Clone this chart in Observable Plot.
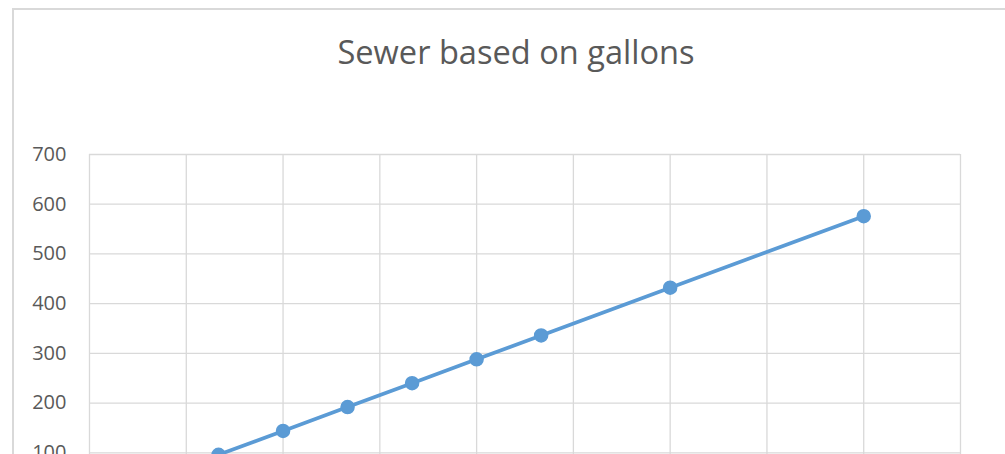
<!DOCTYPE html>
<html>
<head>
<meta charset="utf-8">
<script src="https://cdn.jsdelivr.net/npm/d3@7"></script>
<script src="https://cdn.jsdelivr.net/npm/@observablehq/plot@0.6"></script>
<style>
  html, body { margin: 0; padding: 0; background: #fff; overflow: hidden; }
  #wrap { position: relative; width: 1005px; height: 454px; overflow: hidden; background: #fff; }
  #border { position: absolute; left: 12px; top: 8px; width: 1100px; height: 600px;
            border-top: 2px solid #d9d9d9; border-left: 2px solid #d9d9d9; }
  #title { position: absolute; left: 0; top: 29px; width: 1032px; text-align: center;
           font-family: "Open Sans", Lato, sans-serif; font-size: 32.6px; line-height: normal; color: #595959; }
  #chart { position: absolute; left: 0; top: 0; }
</style>
</head>
<body>
<div id="wrap">
  <div id="border"></div>
  <div id="title">Sewer based on gallons</div>
  <div id="chart"></div>
</div>
<script>
const gallons = [4, 6, 8, 10, 12, 14, 18, 24];
const sewer = [96, 144, 192, 240, 288, 336, 432, 576];
const xTicks = [0, 3, 6, 9, 12, 15, 18, 21, 24, 27];
const yTicks = [0, 100, 200, 300, 400, 500, 600, 700];

const data = gallons.map((g, i) => ({gallons: g, sewer: sewer[i]}));

const plot = Plot.plot({
  width: 1005,
  height: 560,
  marginLeft: 89,
  marginRight: 45,
  marginTop: 154,
  marginBottom: 58,
  style: {fontFamily: "'Open Sans', Lato, sans-serif", fontSize: "20px", color: "#595959", background: "transparent"},
  x: {domain: [0, 27], ticks: xTicks},
  y: {domain: [0, 700], ticks: yTicks},
  marks: [
    Plot.gridX(xTicks, {stroke: "#d9d9d9", strokeOpacity: 1, strokeWidth: 1.3}),
    Plot.gridY(yTicks, {stroke: "#d9d9d9", strokeOpacity: 1, strokeWidth: 1.3}),
    Plot.axisY(yTicks, {tickSize: 0, tickPadding: 23, label: null, fill: "#595959", fontSize: 20}),
    Plot.axisX(xTicks, {tickSize: 0, tickPadding: 12, label: null, fill: "#595959", fontSize: 20}),
    Plot.line(data, {x: "gallons", y: "sewer", stroke: "#5b9bd5", strokeWidth: 3.7}),
    Plot.dot(data, {x: "gallons", y: "sewer", r: 6.5, fill: "#5b9bd5", stroke: "#5b9bd5"})
  ]
});
document.getElementById("chart").appendChild(plot);
</script>
</body>
</html>
